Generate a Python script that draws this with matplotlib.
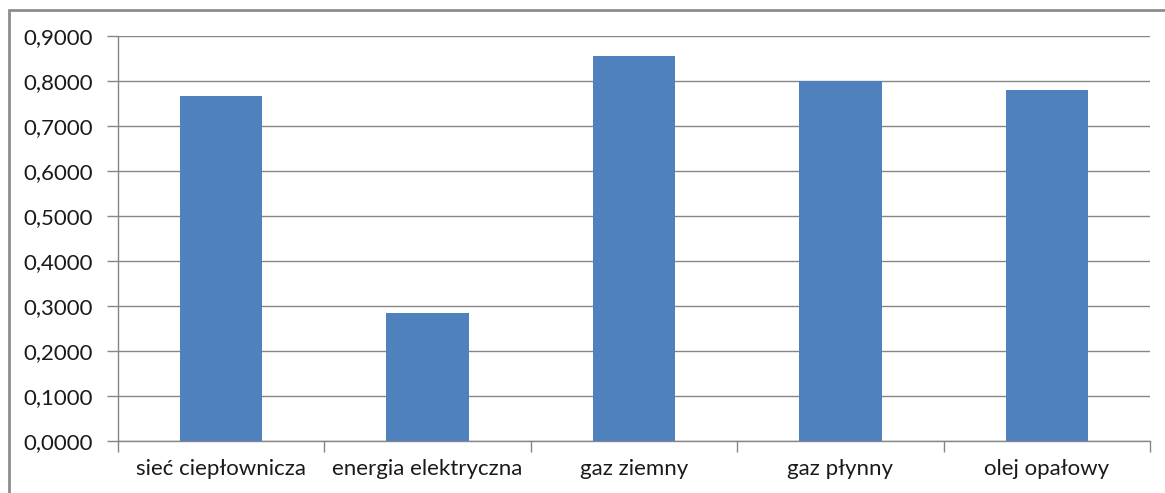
import matplotlib
matplotlib.use("Agg")
import matplotlib.pyplot as plt
from matplotlib.patches import Rectangle
from matplotlib.ticker import FixedLocator, FuncFormatter

# Dane do wykresu
kategorie = ["sieć ciepłownicza", "energia elektryczna", "gaz ziemny", "gaz płynny", "olej opałowy"]
wartosci = [0.767, 0.284, 0.856, 0.800, 0.780]
y_ticki = [0.0, 0.1, 0.2, 0.3, 0.4, 0.5, 0.6, 0.7, 0.8, 0.9]

plt.rcParams['font.family'] = ['Lato', 'DejaVu Sans']

fig = plt.figure(figsize=(11.65, 4.93), dpi=100)
ax = fig.add_axes([118 / 1165, 1 - 441 / 493, (1150 - 118) / 1165, (441 - 36) / 493])

# ramka obszaru wykresu
fig.patches.append(Rectangle((9 / 1165, -0.1), 1.2, 1.1 - 10 / 493,
                             transform=fig.transFigure, fill=False,
                             edgecolor="#8c8c8c", linewidth=2.0))

x = list(range(len(kategorie)))
ax.bar(x, wartosci, width=0.4, color="#4F81BD", zorder=3)

ax.set_xlim(-0.5, len(kategorie) - 0.5)
ax.set_ylim(0, 0.9)
ax.set_yticks(y_ticki)
ax.yaxis.set_major_formatter(FuncFormatter(lambda v, p: f"{v:.4f}".replace(".", ",")))
ax.yaxis.grid(True, color="#868686", linewidth=1.0, zorder=0)

ax.set_xticks(x)
ax.set_xticklabels(kategorie)
ax.xaxis.set_minor_locator(FixedLocator([i - 0.5 for i in range(len(kategorie) + 1)]))
ax.tick_params(axis="x", which="major", length=0, pad=13, labelsize=16, labelcolor="#1a1a1a")
ax.tick_params(axis="x", which="minor", length=8, color="#868686", width=1.0)
ax.tick_params(axis="y", length=8, color="#868686", width=1.0, pad=10, labelsize=16, labelcolor="#1a1a1a")

for s in ["top", "right"]:
    ax.spines[s].set_visible(False)
for s in ["left", "bottom"]:
    ax.spines[s].set_color("#868686")
    ax.spines[s].set_linewidth(1.0)

fig.savefig("out.png", dpi=100)
